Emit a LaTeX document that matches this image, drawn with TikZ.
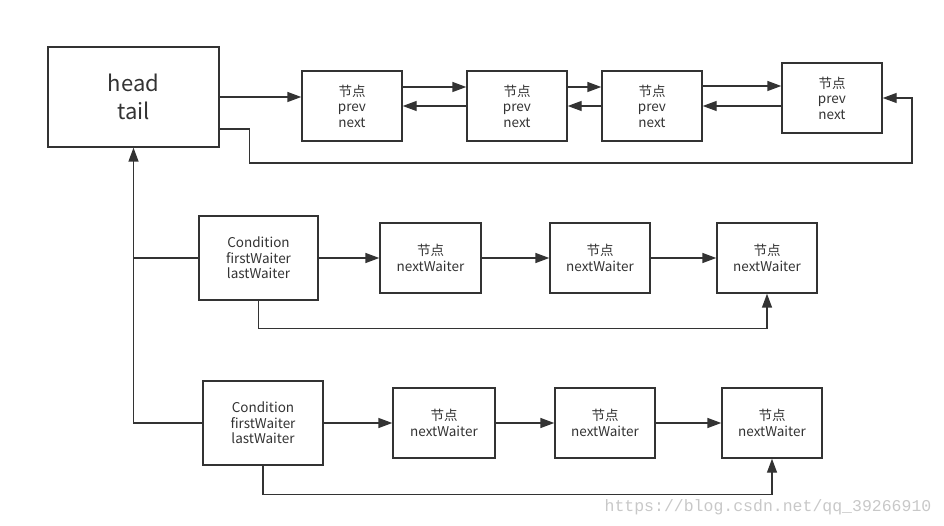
\documentclass[tikz,border=0pt]{standalone}
\usepackage{fontspec}
\setmainfont{Noto Sans CJK SC}
\newfontfamily\wmfont{Liberation Mono}
\usetikzlibrary{arrows.meta,calc}
\definecolor{ink}{HTML}{333333}
\definecolor{wm}{HTML}{C8C8C8}
\tikzset{
  box/.style={draw=ink,line width=1.4pt,inner sep=0pt,align=center,text=ink,
    font=\fontsize{13.5}{15.5}\selectfont},
  bigbox/.style={box,minimum width=171pt,minimum height=100pt,font=\fontsize{22}{28}\selectfont},
  nodebox/.style={box,minimum width=100pt,minimum height=70pt},
  condbox/.style={box,minimum width=119pt,minimum height=84pt},
  arr/.style={draw=ink,line width=1.4pt,-{Triangle[length=14pt,width=10pt]}},
  ln/.style={draw=ink,line width=1.4pt},
}
\begin{document}
\begin{tikzpicture}[x=1pt,y=-1pt]
\useasboundingbox (0,0) rectangle (944,526);
% top row
\node[bigbox] (ht) at (133.5,97) {head\\tail};
\node[nodebox] (t1) at (352,106) {节点\\prev\\next};
\node[nodebox] (t2) at (517,106) {节点\\prev\\next};
\node[nodebox] (t3) at (652,106) {节点\\prev\\next};
\node[nodebox] (t4) at (832,98) {节点\\prev\\next};
\draw[arr] (ht.east) -- (ht.east -| t1.west);
\draw[arr] ([yshift=19pt]t1.east) -- ([yshift=19pt]t1.east -| t2.west);
\draw[arr] (t2.west) -- (t2.west -| t1.east);
\draw[arr] ([yshift=19pt]t2.east) -- ([yshift=19pt]t2.east -| t3.west);
\draw[arr] (t3.west) -- (t3.west -| t2.east);
\draw[arr] ([yshift=20pt]t3.east) -- ([yshift=20pt]t3.east -| t4.west);
\draw[arr] ([yshift=-8pt]t4.west) -- ([yshift=-8pt]t4.west -| t3.east);
\coordinate (loopa) at (912,163);
\draw[arr] ([yshift=-32pt]ht.east) -- ++(30,0) |- (loopa) |- (t4.east);
% condition 1
\node[condbox] (c1) at (258.5,258) {Condition\\firstWaiter\\lastWaiter};
\node[nodebox,minimum width=101pt] (a1) at (430.5,258) {节点\\nextWaiter};
\node[nodebox] (a2) at (600,258) {节点\\nextWaiter};
\node[nodebox] (a3) at (767,258) {节点\\nextWaiter};
\draw[arr] (c1.east) -- (a1.west);
\draw[arr] (a1.east) -- (a2.west);
\draw[arr] (a2.east) -- (a3.west);
\draw[arr] (c1.south) |- ($(a3.south)+(0,35)$) -- (a3.south);
% condition 2
\node[condbox,minimum width=120pt] (c2) at (263,423) {Condition\\firstWaiter\\lastWaiter};
\node[nodebox,minimum width=102pt] (b1) at (444,423) {节点\\nextWaiter};
\node[nodebox] (b2) at (605,423) {节点\\nextWaiter};
\node[nodebox] (b3) at (772,423) {节点\\nextWaiter};
\draw[arr] (c2.east) -- (b1.west);
\draw[arr] (b1.east) -- (b2.west);
\draw[arr] (b2.east) -- (b3.west);
\draw[arr] (c2.south) |- ($(b3.south)+(0,36)$) -- (b3.south);
% spine
\draw[ln] (c1.west) -- (c1.west -| ht.south);
\draw[arr] (c2.west) -- (c2.west -| ht.south) -- (ht.south);
% watermark
\node[text=wm,font=\wmfont\fontsize{16.5}{18}\selectfont,inner sep=0pt] (wmk) at (768,507) {https://blog.csdn.net/qq\_39266910};
\end{tikzpicture}
\end{document}
